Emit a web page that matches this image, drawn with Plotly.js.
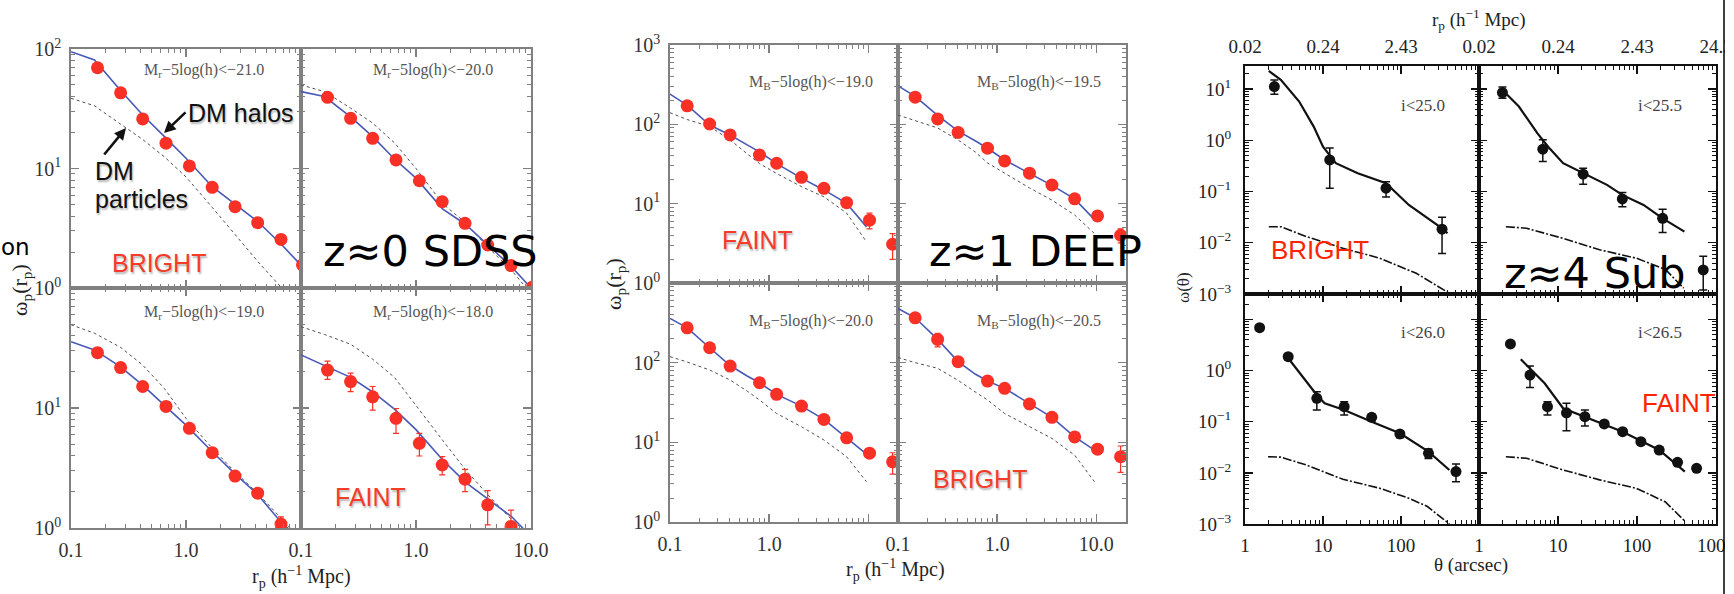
<!DOCTYPE html>
<html><head><meta charset="utf-8">
<script src="https://cdn.plot.ly/plotly-3.0.1.min.js"></script>
<style>html,body{margin:0;padding:0;background:#fff;}#chart{width:1734px;height:594px;}</style>
</head><body><div id="chart"></div>
<script>
// ---------------- DATA ----------------
// z~0 SDSS : projected correlation function w_p(r_p)
const SDSS_RP = [0.17, 0.27, 0.42, 0.67, 1.07, 1.69, 2.67, 4.2, 6.7, 10.3];
const SDSS_WP_21 = [69.7, 43, 26, 16.3, 10.5, 6.96, 4.79, 3.52, 2.55, 1.56];
const SDSS_WP_20 = [39.4, 26.3, 17.9, 11.8, 7.9, 5.28, 3.48, 2.29, 1.54, 1.02];
const SDSS_WP_19 = [28.9, 21.7, 15.1, 10.3, 6.77, 4.24, 2.71, 1.95, 1.08, null];
const SDSS_WP_18 = [20.7, 16.6, 12.4, 8.2, 5.08, 3.35, 2.55, 1.56, 1.03, null];
const SDSS_ERR_21 = [1.5, 1.0, 0.6, 0.4, 0.3, 0.2, 0.15, 0.12, 0.1, 0.08];
const SDSS_ERR_20 = [1.2, 0.8, 0.5, 0.4, 0.3, 0.2, 0.14, 0.1, 0.08, 0.06];
const SDSS_ERR_19 = [1.2, 0.9, 0.7, 0.6, 0.5, 0.3, 0.2, 0.17, 0.16, null];
const SDSS_ERRUP_18 = [3.9, 2.9, 2.7, 1.7, 1.07, 0.58, 0.53, 0.49, 0.38, null];
const SDSS_ERRDN_18 = [3.4, 2.9, 2.8, 2.05, 1.1, 0.58, 0.54, 0.5, 0.35, null];
const SDSS_MODEL_RP = [0.1, 0.16, 0.27, 0.42, 0.65, 1.0, 1.7, 2.7, 4.2, 6.8, 10];
const SDSS_HALO_21 = [95, 81, 45, 28, 18.5, 12.2, 7.0, 5.0, 3.6, 2.3, 1.55];
const SDSS_PART_21 = [38.7, 33.5, 23.5, 17.5, 12.5, 8.5, 4.7, 2.75, 1.67, 1.0, 0.6];
const SDSS_HALO_20 = [44, 40, 27, 18.5, 12, 8.3, 4.6, 3.4, 2.3, 1.5, 1.0];
const SDSS_PART_20 = [50, 44, 32, 24, 16.4, 10, 5.1, 3.5, 2.2, 1.4, 0.9];
const SDSS_HALO_19 = [35.7, 30.5, 22, 15.5, 10.5, 7.2, 4.3, 2.8, 1.9, 1.1, 0.8];
const SDSS_PART_19 = [49.4, 42, 32, 22.8, 14.5, 8.2, 4.6, 2.9, 1.95, 1.2, 0.8];
const SDSS_HALO_18 = [27.7, 22.6, 18, 13.6, 9.8, 6.6, 3.7, 2.4, 1.75, 1.24, 0.85];
const SDSS_PART_18 = [47.6, 41, 34, 25.5, 18, 10.4, 5.4, 3.05, 1.9, 1.17, 0.85];

// z~1 DEEP2
const DEEP_RP = [0.149, 0.251, 0.404, 0.80, 1.19, 2.12, 3.57, 6.05, 10.3, 17.6];
const DEEP_WP_190 = [171, 101, 73.5, 41, 32.3, 21.5, 15.6, 10.3, 6.2, 3.08];
const DEEP_WP_195 = [220, 117, 79, 50, 34.6, 24.2, 17.2, 11.5, 7.0, 4.0];
const DEEP_WP_200 = [274, 154, 90.6, 56, 40, 28.5, 19.4, 11.4, 7.3, 5.7];
const DEEP_WP_205 = [366, 196, 103, 58.8, 47.6, 30.3, 20.6, 11.7, 8.2, 6.6];
const DEEP_ERR_190 = [12, 7, 5, 4, 3, 2, 1.5, 1.2, 1.4, 1.1];
const DEEP_ERR_195 = [20, 10, 6, 4, 3, 2, 1.5, 1.1, 0.8, 0.8];
const DEEP_ERR_200 = [20, 12, 7, 4, 3, 2, 1.5, 1.1, 0.8, 1.7];
const DEEP_ERR_205 = [30, 38, 8, 5, 4, 2.5, 1.5, 1.1, 0.9, 2.4];
const DEEP_MODEL_RP = [0.1, 0.149, 0.251, 0.404, 0.6, 0.8, 1.19, 2.12, 3.57, 6.05, 9.6];
const DEEP_HALO_190 = [240, 175, 98, 73.5, 55, 45, 32, 21, 14.9, 10.1, 5.1];
const DEEP_PART_190 = [140, 115, 94, 63.5, 42.6, 32, 24, 16.4, 12.2, 7.6, 3.3];
const DEEP_HALO_195 = [305, 225, 130, 82, 62, 50, 35.5, 24, 17, 11.5, 6.3];
const DEEP_PART_195 = [131, 112, 90, 63.5, 45, 32.6, 24.3, 15.8, 11.1, 7.2, 4.2];
const DEEP_HALO_200 = [359, 274, 154, 92, 68, 56, 40, 28.5, 19.4, 11.4, 7.1];
const DEEP_PART_200 = [119, 102, 81, 60.5, 44, 34, 23, 15.7, 10.7, 6.6, 3.2];
const DEEP_HALO_205 = [478, 366, 196, 103, 72, 58.8, 47.6, 30.3, 20.6, 11.7, 8.0];
const DEEP_PART_205 = [116, 100, 85, 60, 43, 34, 23, 15.7, 11.2, 6.9, 3.2];

// z~4 Subaru : angular correlation function w(theta)
const SUB_TH_250 = [2.38, 12.2, 64.3, 336];
const SUB_W_250 = [11.2, 0.414, 0.116, 0.0184];
const SUB_EP_250 = [3.9, 0.29, 0.04, 0.0132];
const SUB_EM_250 = [3.3, 0.298, 0.038, 0.0122];
const SUB_TH_255 = [1.98, 6.42, 20.8, 65.2, 211, 689];
const SUB_W_255 = [8.55, 0.67, 0.218, 0.0716, 0.030, 0.00295];
const SUB_EP_255 = [2.45, 0.35, 0.067, 0.024, 0.015, 0.0025];
const SUB_EM_255 = [1.95, 0.286, 0.079, 0.021, 0.0142, 0.00175];
const SUB_TH_260 = [1.54, 3.58, 8.33, 18.7, 42.1, 96.8, 225, 507];
const SUB_W_260 = [6.93, 1.88, 0.288, 0.197, 0.122, 0.0577, 0.0242, 0.0106];
const SUB_EP_260 = [0.8, 0.25, 0.1, 0.05, 0.018, 0.009, 0.005, 0.0043];
const SUB_EM_260 = [0.8, 0.25, 0.118, 0.061, 0.018, 0.009, 0.005, 0.0039];
const SUB_TH_265 = [2.5, 4.42, 7.36, 12.8, 21.9, 38.5, 65.8, 112, 191, 326, 568];
const SUB_W_265 = [3.33, 0.82, 0.197, 0.15, 0.126, 0.0906, 0.064, 0.0407, 0.028, 0.0161, 0.0123];
const SUB_EP_265 = [0.35, 0.42, 0.05, 0.08, 0.044, 0.012, 0.007, 0.005, 0.004, 0.002, 0.0015];
const SUB_EM_265 = [0.35, 0.35, 0.061, 0.083, 0.043, 0.012, 0.007, 0.005, 0.004, 0.002, 0.0015];
const SUB_MOD_TH_250 = [2.02, 2.88, 4.95, 7.6, 10, 14.6, 27.9, 64.3, 126, 336, 395];
const SUB_MOD_W_250 = [22.6, 15.1, 5.7, 1.85, 0.75, 0.357, 0.228, 0.145, 0.0547, 0.0192, 0.0153];
const SUB_DM_TH_250 = [2.02, 2.88, 6.14, 18, 53.5, 157, 417];
const SUB_DM_W_250 = [0.0206, 0.0206, 0.0132, 0.0078, 0.005, 0.00254, 0.00103];
const SUB_MOD_TH_255 = [1.88, 3.2, 5.47, 7.5, 11.6, 20.8, 41.7, 65, 121, 211, 398];
const SUB_MOD_W_255 = [10.4, 4.55, 1.38, 0.75, 0.357, 0.227, 0.135, 0.086, 0.0547, 0.030, 0.0165];
const SUB_DM_TH_255 = [2.19, 4, 11.6, 33.6, 98, 229, 390];
const SUB_DM_W_255 = [0.0206, 0.0192, 0.0122, 0.0073, 0.005, 0.003, 0.0013];
const SUB_MOD_TH_260 = [3.2, 8.33, 10.5, 18.7, 42.1, 96.8, 225, 417];
const SUB_MOD_W_260 = [2.19, 0.334, 0.23, 0.17, 0.1, 0.0596, 0.026, 0.0114];
const SUB_DM_TH_260 = [1.97, 2.88, 6.14, 18, 53.5, 126, 218, 417];
const SUB_DM_W_260 = [0.0207, 0.0203, 0.0143, 0.0075, 0.005, 0.0032, 0.0022, 0.001];
const SUB_MOD_TH_265 = [3.38, 6.77, 11.6, 21.9, 65.8, 191, 403];
const SUB_MOD_W_265 = [1.67, 0.566, 0.184, 0.126, 0.064, 0.028, 0.0106];
const SUB_DM_TH_265 = [2.19, 4, 11.6, 33.6, 98, 229, 412];
const SUB_DM_W_265 = [0.0207, 0.0193, 0.0114, 0.0073, 0.005, 0.0027, 0.0011];

// tick labels
const E = n => '10<sup>' + n + '</sup>';
const RP_TICKS = [0.1, 1, 10];
const RP_LABELS = ['0.1', '1.0', '10.0'];
const TH_TICKS = [1, 10, 100, 1000];
const TH_LABELS = ['1', '10', '100', '1000'];
const RPTOP_LABELS = ['0.02', '0.24', '2.43', '24.3'];
const WP_TICKS = [1, 10, 100, 1000];
const WP_LABELS = [E(0), E(1), E(2), E(3)];
const W_TICKS = [0.001, 0.01, 0.1, 1, 10];
const W_LABELS = [E('−3'), E('−2'), E('−1'), E(0), E(1)];

// ---------------- LAYOUT HELPERS ----------------
const W = 1734, H = 594;
const PX = v => v / W;
const PY = v => 1 - v / H;
function minorLog(lo, hi) {
  const out = [];
  for (let e = lo; e <= hi; e++) for (let m = 2; m <= 9; m++) out.push(+(m * Math.pow(10, e)).toPrecision(3));
  return out;
}
const SERIF = 'Liberation Serif';
const SANS = 'Liberation Sans';
const STY = {
  a: {line: '#808080', lw: 1.8, tfont: {family: SERIF, size: 20, color: '#333'}},
  b: {line: '#111111', lw: 2, tfont: {family: SERIF, size: 19, color: '#222'}}
};
function mkAxis(dom, range, ticks, labels, sty, minor, extra) {
  const s = STY[sty];
  return Object.assign({
    type: 'log', domain: dom, range: range, showline: true, linecolor: s.line, linewidth: s.lw,
    mirror: 'ticks', ticks: 'inside', ticklen: 8, tickwidth: 1.3, tickcolor: s.line,
    tickmode: 'array', tickvals: ticks, ticktext: labels || ticks.map(() => ''),
    showticklabels: !!labels, tickfont: Object.assign({}, s.tfont), showgrid: false, zeroline: false,
    fixedrange: true, automargin: false, ticklabelstandoff: 3, ticklabeloverflow: 'allow',
    minor: {tickmode: 'array', tickvals: minor, ticks: 'inside', ticklen: 4, tickwidth: 1, tickcolor: s.line, showgrid: false}
  }, extra || {});
}

// panels: pixel boxes [x0,x1,y0,y1]
const PANELS = [
  {box: [71, 301, 49, 288], xr: [-1, 1], yr: [0, 2], sty: 'a', xt: RP_TICKS, xl: null, yt: WP_TICKS, yl: WP_LABELS, xm: minorLog(-1, 0), ym: minorLog(0, 1)},
  {box: [301, 531, 49, 288], xr: [-1, 1], yr: [0, 2], sty: 'a', xt: RP_TICKS, xl: null, yt: WP_TICKS, yl: null, xm: minorLog(-1, 0), ym: minorLog(0, 1)},
  {box: [71, 301, 288, 528], xr: [-1, 1], yr: [0, 2], sty: 'a', xt: RP_TICKS, xl: ['0.1', '1.0', ''], yt: WP_TICKS, yl: [E(0), E(1), '', ''], xm: minorLog(-1, 0), ym: minorLog(0, 1)},
  {box: [301, 531, 288, 528], xr: [-1, 1], yr: [0, 2], sty: 'a', xt: RP_TICKS, xl: RP_LABELS, yt: WP_TICKS, yl: null, xm: minorLog(-1, 0), ym: minorLog(0, 1)},
  {box: [670, 898, 45, 283], xr: [-1, 1.3], yr: [0, 3], sty: 'a', xt: RP_TICKS, xl: null, yt: WP_TICKS, yl: WP_LABELS, xm: minorLog(-1, 1), ym: minorLog(0, 2)},
  {box: [898, 1126, 45, 283], xr: [-1, 1.3], yr: [0, 3], sty: 'a', xt: RP_TICKS, xl: null, yt: WP_TICKS, yl: null, xm: minorLog(-1, 1), ym: minorLog(0, 2)},
  {box: [670, 898, 283, 522], xr: [-1, 1.3], yr: [0, 3], sty: 'a', xt: RP_TICKS, xl: ['0.1', '1.0', ''], yt: WP_TICKS, yl: [E(0), E(1), E(2), ''], xm: minorLog(-1, 1), ym: minorLog(0, 2)},
  {box: [898, 1126, 283, 522], xr: [-1, 1.3], yr: [0, 3], sty: 'a', xt: RP_TICKS, xl: RP_LABELS, yt: WP_TICKS, yl: null, xm: minorLog(-1, 1), ym: minorLog(0, 2)},
  {box: [1245, 1479, 66, 294], xr: [0, 3], yr: [-3, 1.45], sty: 'b', xt: TH_TICKS, xl: ['0.02', '0.24', '2.43', ''], top: true, yt: W_TICKS, yl: W_LABELS, xm: minorLog(0, 2), ym: minorLog(-3, 1)},
  {box: [1479, 1716, 66, 294], xr: [0, 3], yr: [-3, 1.45], sty: 'b', xt: TH_TICKS, xl: RPTOP_LABELS, top: true, yt: W_TICKS, yl: null, xm: minorLog(0, 2), ym: minorLog(-3, 1)},
  {box: [1245, 1479, 294, 524], xr: [0, 3], yr: [-3, 1.5], sty: 'b', xt: TH_TICKS, xl: ['1', '10', '100', ''], yt: W_TICKS, yl: [E('−3'), E('−2'), E('−1'), E(0), ''], xm: minorLog(0, 2), ym: minorLog(-3, 1)},
  {box: [1479, 1716, 294, 524], xr: [0, 3], yr: [-3, 1.5], sty: 'b', xt: TH_TICKS, xl: TH_LABELS, yt: W_TICKS, yl: null, xm: minorLog(0, 2), ym: minorLog(-3, 1)}
];

const layout = {
  width: W, height: H, margin: {l: 0, r: 0, t: 0, b: 0},
  paper_bgcolor: '#ffffff', plot_bgcolor: 'rgba(0,0,0,0)', showlegend: false,
  annotations: [], shapes: []
};
PANELS.forEach((p, i) => {
  const k = i + 1, sfx = k === 1 ? '' : String(k);
  const [x0, x1, y0, y1] = p.box;
  layout['xaxis' + sfx] = mkAxis([PX(x0), PX(x1)], p.xr, p.xt, p.xl, p.sty, p.xm,
    {anchor: 'y' + sfx, side: p.top ? 'top' : 'bottom'});
  layout['yaxis' + sfx] = mkAxis([PY(y1), PY(y0)], p.yr, p.yt, p.yl, p.sty, p.ym,
    {anchor: 'x' + sfx, ticklabelstandoff: p.sty === 'b' ? 8 : 4});
});

// ---------------- TRACES ----------------
const RED = 'rgb(248,48,38)', BLUE = 'rgb(72,88,182)', DOT = 'rgb(80,80,80)';
const traces = [];
function ax(k) { return k === 1 ? ['x', 'y'] : ['x' + k, 'y' + k]; }
function line(k, x, y, color, width, dash) {
  const [xa, ya] = ax(k);
  traces.push({type: 'scatter', mode: 'lines', x: x, y: y, xaxis: xa, yaxis: ya,
    line: {color: color, width: width, dash: dash || 'solid'}, hoverinfo: 'skip'});
}
function pts(k, x, y, ep, em, color, size, ew, cap) {
  const [xa, ya] = ax(k);
  traces.push({type: 'scatter', mode: 'markers', x: x, y: y, xaxis: xa, yaxis: ya,
    marker: {color: color, size: size},
    error_y: {type: 'data', array: ep, arrayminus: em || ep, color: color, thickness: ew, width: cap, visible: true},
    hoverinfo: 'skip'});
}
// SDSS
line(1, SDSS_MODEL_RP, SDSS_PART_21, DOT, 1, 'dot');
line(1, SDSS_MODEL_RP, SDSS_HALO_21, BLUE, 1.6);
pts(1, SDSS_RP, SDSS_WP_21, SDSS_ERR_21, null, RED, 13, 1.2, 3);
line(2, SDSS_MODEL_RP, SDSS_PART_20, DOT, 1, 'dot');
line(2, SDSS_MODEL_RP, SDSS_HALO_20, BLUE, 1.6);
pts(2, SDSS_RP, SDSS_WP_20, SDSS_ERR_20, null, RED, 13, 1.2, 3);
line(3, SDSS_MODEL_RP, SDSS_PART_19, DOT, 1, 'dot');
line(3, SDSS_MODEL_RP, SDSS_HALO_19, BLUE, 1.6);
pts(3, SDSS_RP, SDSS_WP_19, SDSS_ERR_19, null, RED, 13, 1.2, 3);
line(4, SDSS_MODEL_RP, SDSS_PART_18, DOT, 1, 'dot');
line(4, SDSS_MODEL_RP, SDSS_HALO_18, BLUE, 1.6);
pts(4, SDSS_RP, SDSS_WP_18, SDSS_ERRUP_18, SDSS_ERRDN_18, RED, 13, 1.2, 3);
// DEEP
line(5, DEEP_MODEL_RP, DEEP_PART_190, DOT, 1, 'dot');
line(5, DEEP_MODEL_RP, DEEP_HALO_190, BLUE, 1.6);
pts(5, DEEP_RP, DEEP_WP_190, DEEP_ERR_190, null, RED, 13, 1.2, 3);
line(6, DEEP_MODEL_RP, DEEP_PART_195, DOT, 1, 'dot');
line(6, DEEP_MODEL_RP, DEEP_HALO_195, BLUE, 1.6);
pts(6, DEEP_RP, DEEP_WP_195, DEEP_ERR_195, null, RED, 13, 1.2, 3);
line(7, DEEP_MODEL_RP, DEEP_PART_200, DOT, 1, 'dot');
line(7, DEEP_MODEL_RP, DEEP_HALO_200, BLUE, 1.6);
pts(7, DEEP_RP, DEEP_WP_200, DEEP_ERR_200, null, RED, 13, 1.2, 3);
line(8, DEEP_MODEL_RP, DEEP_PART_205, DOT, 1, 'dot');
line(8, DEEP_MODEL_RP, DEEP_HALO_205, BLUE, 1.6);
pts(8, DEEP_RP, DEEP_WP_205, DEEP_ERR_205, null, RED, 13, 1.2, 3);
// Subaru
const DASHDOT = '9px,2px,2px,2px';
line(9, SUB_DM_TH_250, SUB_DM_W_250, '#111', 1.6, DASHDOT);
line(9, SUB_MOD_TH_250, SUB_MOD_W_250, '#111', 2.2);
pts(9, SUB_TH_250, SUB_W_250, SUB_EP_250, SUB_EM_250, '#111', 11, 1.5, 4);
line(10, SUB_DM_TH_255, SUB_DM_W_255, '#111', 1.6, DASHDOT);
line(10, SUB_MOD_TH_255, SUB_MOD_W_255, '#111', 2.2);
pts(10, SUB_TH_255, SUB_W_255, SUB_EP_255, SUB_EM_255, '#111', 11, 1.5, 4);
line(11, SUB_DM_TH_260, SUB_DM_W_260, '#111', 1.6, DASHDOT);
line(11, SUB_MOD_TH_260, SUB_MOD_W_260, '#111', 2.2);
pts(11, SUB_TH_260, SUB_W_260, SUB_EP_260, SUB_EM_260, '#111', 11, 1.5, 4);
line(12, SUB_DM_TH_265, SUB_DM_W_265, '#111', 1.6, DASHDOT);
line(12, SUB_MOD_TH_265, SUB_MOD_W_265, '#111', 2.2);
pts(12, SUB_TH_265, SUB_W_265, SUB_EP_265, SUB_EM_265, '#111', 11, 1.5, 4);

// ---------------- ANNOTATIONS ----------------
function note(text, x, y, font, extra) {
  layout.annotations.push(Object.assign({text: text, x: PX(x), y: PY(y), xref: 'paper', yref: 'paper',
    showarrow: false, xanchor: 'center', yanchor: 'middle', font: font}, extra || {}));
}
const LBL = {family: SERIF, size: 16, color: '#555'};
const LBL3 = {family: SERIF, size: 17, color: '#444'};
note('M<sub>r</sub>−5log(h)&lt;−21.0', 204, 71, LBL);
note('M<sub>r</sub>−5log(h)&lt;−20.0', 433, 71, LBL);
note('M<sub>r</sub>−5log(h)&lt;−19.0', 204, 312, LBL);
note('M<sub>r</sub>−5log(h)&lt;−18.0', 433, 312, LBL);
note('M<sub>B</sub>−5log(h)&lt;−19.0', 811, 83, LBL);
note('M<sub>B</sub>−5log(h)&lt;−19.5', 1039, 83, LBL);
note('M<sub>B</sub>−5log(h)&lt;−20.0', 811, 321, LBL);
note('M<sub>B</sub>−5log(h)&lt;−20.5', 1039, 321, LBL);
note('i&lt;25.0', 1423, 105, LBL3);
note('i&lt;25.5', 1660, 105, LBL3);
note('i&lt;26.0', 1423, 333, LBL3);
note('i&lt;26.5', 1660, 333, LBL3);

const TITLE = {family: SERIF, size: 20, color: '#222'};
note('r<sub>p</sub> (h<sup>−1</sup> Mpc)', 301, 577, TITLE);
note('r<sub>p</sub> (h<sup>−1</sup> Mpc)', 896, 570, TITLE);
note('r<sub>p</sub> (h<sup>−1</sup> Mpc)', 1479, 20, {family: SERIF, size: 19, color: '#222'});
note('θ (arcsec)', 1471, 565, {family: SERIF, size: 19, color: '#222'});
note('ω<sub>p</sub>(r<sub>p</sub>)', 21, 290, {family: SERIF, size: 22, color: '#222'}, {textangle: -90});
note('ω<sub>p</sub>(r<sub>p</sub>)', 615, 284, {family: SERIF, size: 22, color: '#222'}, {textangle: -90});
note('ω(θ)', 1183, 288, {family: SERIF, size: 17, color: '#222'}, {textangle: -90});

const SHADOW = '1px 2px 2px rgba(0,0,0,0.3)';
const REDLBL = {family: SANS, size: 25, color: 'rgb(245,60,40)', shadow: SHADOW};
note('BRIGHT', 159, 263, REDLBL);
note('FAINT', 370, 497, REDLBL);
note('FAINT', 757, 240, REDLBL);
note('BRIGHT', 980, 479, REDLBL);
const REDLBL3 = {family: SANS, size: 26, color: 'rgb(255,36,0)'};
note('BRIGHT', 1320, 250, REDLBL3);
note('FAINT', 1679, 403, REDLBL3);

const DMF = {family: SANS, size: 25, color: '#111', shadow: SHADOW};
note('DM halos', 186, 113, DMF, {xanchor: 'left'});
note('DM', 93, 171, DMF, {xanchor: 'left'});
note('particles', 93, 199, DMF, {xanchor: 'left'});
function arrow(hx, hy, tx, ty) {
  layout.annotations.push({text: '', x: PX(hx), y: PY(hy), xref: 'paper', yref: 'paper',
    ax: tx - hx, ay: ty - hy, axref: 'pixel', ayref: 'pixel', showarrow: true,
    arrowhead: 2, arrowsize: 0.9, arrowwidth: 2.6, arrowcolor: '#111', standoff: 0, startstandoff: 0});
}
arrow(164, 133, 187, 111);
arrow(126, 128, 103, 156);

const BIG = {family: 'DejaVu Sans', size: 43, color: '#000'};
note('z≈0 SDSS', 430, 251, BIG);
note('z≈1 DEEP', 1035, 251, BIG);
note('z≈4 Sub', 1594, 273, BIG);
note('on', 0, 247, {family: 'DejaVu Sans', size: 23, color: '#000'}, {xanchor: 'left', borderpad: 0});

// right frame edge of the slide
layout.shapes.push({type: 'rect', xref: 'paper', yref: 'paper', x0: PX(1725), x1: 1, y0: 0, y1: 1,
  fillcolor: '#ffffff', line: {width: 0}, layer: 'above'});
layout.shapes.push({type: 'line', xref: 'paper', yref: 'paper', x0: PX(1724), x1: PX(1724), y0: 0, y1: 1,
  line: {color: '#000', width: 1.5}, layer: 'above'});

Plotly.newPlot('chart', traces, layout, {staticPlot: true, displayModeBar: false});
</script></body></html>
